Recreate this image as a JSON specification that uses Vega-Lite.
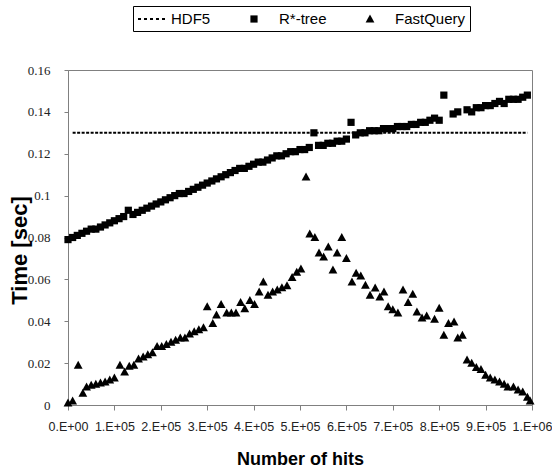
{
  "$schema": "https://vega.github.io/schema/vega-lite/v6.json",
  "width": 464,
  "height": 335,
  "autosize": {"type": "none"},
  "padding": {"left": 68, "top": 70, "right": 20, "bottom": 63},
  "background": "white",
  "config": {
    "view": {"stroke": "#808080", "strokeWidth": 1},
    "axis": {
      "grid": false,
      "domainColor": "#808080",
      "tickColor": "#808080",
      "labelFont": "Liberation Sans",
      "titleFont": "Liberation Sans",
      "labelColor": "#222222",
      "titleColor": "#000000",
      "titleFontWeight": "bold"
    }
  },
  "datasets": {
    "hdf5": [
      {"series": "HDF5", "x": 10000, "y": 0.13},
      {"series": "HDF5", "x": 990000, "y": 0.13}
    ],
    "pts": [
      {"series": "R*-tree", "x": 0, "y": 0.079},
      {"series": "R*-tree", "x": 10000, "y": 0.080},
      {"series": "R*-tree", "x": 20000, "y": 0.081},
      {"series": "R*-tree", "x": 30000, "y": 0.082},
      {"series": "R*-tree", "x": 40000, "y": 0.083},
      {"series": "R*-tree", "x": 50000, "y": 0.084},
      {"series": "R*-tree", "x": 60000, "y": 0.084},
      {"series": "R*-tree", "x": 70000, "y": 0.085},
      {"series": "R*-tree", "x": 80000, "y": 0.086},
      {"series": "R*-tree", "x": 90000, "y": 0.087},
      {"series": "R*-tree", "x": 100000, "y": 0.088},
      {"series": "R*-tree", "x": 110000, "y": 0.089},
      {"series": "R*-tree", "x": 120000, "y": 0.090},
      {"series": "R*-tree", "x": 130000, "y": 0.093},
      {"series": "R*-tree", "x": 140000, "y": 0.091},
      {"series": "R*-tree", "x": 150000, "y": 0.092},
      {"series": "R*-tree", "x": 160000, "y": 0.093},
      {"series": "R*-tree", "x": 170000, "y": 0.094},
      {"series": "R*-tree", "x": 180000, "y": 0.095},
      {"series": "R*-tree", "x": 190000, "y": 0.096},
      {"series": "R*-tree", "x": 200000, "y": 0.097},
      {"series": "R*-tree", "x": 210000, "y": 0.098},
      {"series": "R*-tree", "x": 220000, "y": 0.099},
      {"series": "R*-tree", "x": 230000, "y": 0.100},
      {"series": "R*-tree", "x": 240000, "y": 0.101},
      {"series": "R*-tree", "x": 250000, "y": 0.101},
      {"series": "R*-tree", "x": 260000, "y": 0.102},
      {"series": "R*-tree", "x": 270000, "y": 0.103},
      {"series": "R*-tree", "x": 280000, "y": 0.104},
      {"series": "R*-tree", "x": 290000, "y": 0.105},
      {"series": "R*-tree", "x": 300000, "y": 0.106},
      {"series": "R*-tree", "x": 310000, "y": 0.107},
      {"series": "R*-tree", "x": 320000, "y": 0.108},
      {"series": "R*-tree", "x": 330000, "y": 0.109},
      {"series": "R*-tree", "x": 340000, "y": 0.110},
      {"series": "R*-tree", "x": 350000, "y": 0.111},
      {"series": "R*-tree", "x": 360000, "y": 0.112},
      {"series": "R*-tree", "x": 370000, "y": 0.113},
      {"series": "R*-tree", "x": 380000, "y": 0.113},
      {"series": "R*-tree", "x": 390000, "y": 0.114},
      {"series": "R*-tree", "x": 400000, "y": 0.115},
      {"series": "R*-tree", "x": 410000, "y": 0.116},
      {"series": "R*-tree", "x": 420000, "y": 0.116},
      {"series": "R*-tree", "x": 430000, "y": 0.117},
      {"series": "R*-tree", "x": 440000, "y": 0.118},
      {"series": "R*-tree", "x": 450000, "y": 0.119},
      {"series": "R*-tree", "x": 460000, "y": 0.119},
      {"series": "R*-tree", "x": 470000, "y": 0.120},
      {"series": "R*-tree", "x": 480000, "y": 0.121},
      {"series": "R*-tree", "x": 490000, "y": 0.121},
      {"series": "R*-tree", "x": 500000, "y": 0.122},
      {"series": "R*-tree", "x": 510000, "y": 0.122},
      {"series": "R*-tree", "x": 520000, "y": 0.123},
      {"series": "R*-tree", "x": 530000, "y": 0.130},
      {"series": "R*-tree", "x": 540000, "y": 0.124},
      {"series": "R*-tree", "x": 550000, "y": 0.124},
      {"series": "R*-tree", "x": 560000, "y": 0.125},
      {"series": "R*-tree", "x": 570000, "y": 0.125},
      {"series": "R*-tree", "x": 580000, "y": 0.126},
      {"series": "R*-tree", "x": 590000, "y": 0.126},
      {"series": "R*-tree", "x": 600000, "y": 0.127},
      {"series": "R*-tree", "x": 610000, "y": 0.135},
      {"series": "R*-tree", "x": 620000, "y": 0.129},
      {"series": "R*-tree", "x": 630000, "y": 0.130},
      {"series": "R*-tree", "x": 640000, "y": 0.130},
      {"series": "R*-tree", "x": 650000, "y": 0.131},
      {"series": "R*-tree", "x": 660000, "y": 0.131},
      {"series": "R*-tree", "x": 670000, "y": 0.131},
      {"series": "R*-tree", "x": 680000, "y": 0.132},
      {"series": "R*-tree", "x": 690000, "y": 0.132},
      {"series": "R*-tree", "x": 700000, "y": 0.132},
      {"series": "R*-tree", "x": 710000, "y": 0.133},
      {"series": "R*-tree", "x": 720000, "y": 0.133},
      {"series": "R*-tree", "x": 730000, "y": 0.133},
      {"series": "R*-tree", "x": 740000, "y": 0.134},
      {"series": "R*-tree", "x": 750000, "y": 0.134},
      {"series": "R*-tree", "x": 760000, "y": 0.135},
      {"series": "R*-tree", "x": 770000, "y": 0.135},
      {"series": "R*-tree", "x": 780000, "y": 0.136},
      {"series": "R*-tree", "x": 790000, "y": 0.137},
      {"series": "R*-tree", "x": 800000, "y": 0.136},
      {"series": "R*-tree", "x": 810000, "y": 0.148},
      {"series": "R*-tree", "x": 830000, "y": 0.139},
      {"series": "R*-tree", "x": 840000, "y": 0.140},
      {"series": "R*-tree", "x": 860000, "y": 0.141},
      {"series": "R*-tree", "x": 870000, "y": 0.140},
      {"series": "R*-tree", "x": 880000, "y": 0.142},
      {"series": "R*-tree", "x": 890000, "y": 0.142},
      {"series": "R*-tree", "x": 900000, "y": 0.143},
      {"series": "R*-tree", "x": 910000, "y": 0.143},
      {"series": "R*-tree", "x": 920000, "y": 0.144},
      {"series": "R*-tree", "x": 930000, "y": 0.145},
      {"series": "R*-tree", "x": 940000, "y": 0.144},
      {"series": "R*-tree", "x": 950000, "y": 0.146},
      {"series": "R*-tree", "x": 960000, "y": 0.146},
      {"series": "R*-tree", "x": 970000, "y": 0.146},
      {"series": "R*-tree", "x": 980000, "y": 0.147},
      {"series": "R*-tree", "x": 990000, "y": 0.148},
      {"series": "FastQuery", "x": 0, "y": 0.001},
      {"series": "FastQuery", "x": 10000, "y": 0.002},
      {"series": "FastQuery", "x": 22000, "y": 0.019},
      {"series": "FastQuery", "x": 32000, "y": 0.0057},
      {"series": "FastQuery", "x": 40000, "y": 0.0086},
      {"series": "FastQuery", "x": 50000, "y": 0.0095},
      {"series": "FastQuery", "x": 60000, "y": 0.010},
      {"series": "FastQuery", "x": 70000, "y": 0.0105},
      {"series": "FastQuery", "x": 80000, "y": 0.011},
      {"series": "FastQuery", "x": 90000, "y": 0.012},
      {"series": "FastQuery", "x": 100000, "y": 0.013},
      {"series": "FastQuery", "x": 112000, "y": 0.019},
      {"series": "FastQuery", "x": 122000, "y": 0.0158},
      {"series": "FastQuery", "x": 132000, "y": 0.0185},
      {"series": "FastQuery", "x": 142000, "y": 0.019},
      {"series": "FastQuery", "x": 152000, "y": 0.022},
      {"series": "FastQuery", "x": 162000, "y": 0.023},
      {"series": "FastQuery", "x": 172000, "y": 0.024},
      {"series": "FastQuery", "x": 182000, "y": 0.025},
      {"series": "FastQuery", "x": 192000, "y": 0.028},
      {"series": "FastQuery", "x": 202000, "y": 0.028},
      {"series": "FastQuery", "x": 212000, "y": 0.029},
      {"series": "FastQuery", "x": 222000, "y": 0.030},
      {"series": "FastQuery", "x": 232000, "y": 0.031},
      {"series": "FastQuery", "x": 242000, "y": 0.032},
      {"series": "FastQuery", "x": 252000, "y": 0.032},
      {"series": "FastQuery", "x": 262000, "y": 0.034},
      {"series": "FastQuery", "x": 272000, "y": 0.035},
      {"series": "FastQuery", "x": 282000, "y": 0.036},
      {"series": "FastQuery", "x": 292000, "y": 0.037},
      {"series": "FastQuery", "x": 300000, "y": 0.047},
      {"series": "FastQuery", "x": 312000, "y": 0.039},
      {"series": "FastQuery", "x": 320000, "y": 0.043},
      {"series": "FastQuery", "x": 330000, "y": 0.048},
      {"series": "FastQuery", "x": 342000, "y": 0.044},
      {"series": "FastQuery", "x": 352000, "y": 0.044},
      {"series": "FastQuery", "x": 362000, "y": 0.044},
      {"series": "FastQuery", "x": 372000, "y": 0.049},
      {"series": "FastQuery", "x": 381000, "y": 0.046},
      {"series": "FastQuery", "x": 392000, "y": 0.050},
      {"series": "FastQuery", "x": 402000, "y": 0.048},
      {"series": "FastQuery", "x": 412000, "y": 0.054},
      {"series": "FastQuery", "x": 421000, "y": 0.0588},
      {"series": "FastQuery", "x": 431000, "y": 0.0525},
      {"series": "FastQuery", "x": 441000, "y": 0.054},
      {"series": "FastQuery", "x": 451000, "y": 0.055},
      {"series": "FastQuery", "x": 461000, "y": 0.056},
      {"series": "FastQuery", "x": 472000, "y": 0.057},
      {"series": "FastQuery", "x": 483000, "y": 0.061},
      {"series": "FastQuery", "x": 493000, "y": 0.0635},
      {"series": "FastQuery", "x": 502000, "y": 0.065},
      {"series": "FastQuery", "x": 513000, "y": 0.109},
      {"series": "FastQuery", "x": 521000, "y": 0.0817},
      {"series": "FastQuery", "x": 532000, "y": 0.080},
      {"series": "FastQuery", "x": 541000, "y": 0.0726},
      {"series": "FastQuery", "x": 551000, "y": 0.0707},
      {"series": "FastQuery", "x": 561000, "y": 0.0755},
      {"series": "FastQuery", "x": 571000, "y": 0.0645},
      {"series": "FastQuery", "x": 580000, "y": 0.0726},
      {"series": "FastQuery", "x": 590000, "y": 0.080},
      {"series": "FastQuery", "x": 600000, "y": 0.070},
      {"series": "FastQuery", "x": 612000, "y": 0.0588},
      {"series": "FastQuery", "x": 621000, "y": 0.063},
      {"series": "FastQuery", "x": 631000, "y": 0.0616},
      {"series": "FastQuery", "x": 641000, "y": 0.0573},
      {"series": "FastQuery", "x": 651000, "y": 0.0525},
      {"series": "FastQuery", "x": 662000, "y": 0.0559},
      {"series": "FastQuery", "x": 672000, "y": 0.0516},
      {"series": "FastQuery", "x": 681000, "y": 0.054},
      {"series": "FastQuery", "x": 690000, "y": 0.047},
      {"series": "FastQuery", "x": 700000, "y": 0.0455},
      {"series": "FastQuery", "x": 711000, "y": 0.044},
      {"series": "FastQuery", "x": 722000, "y": 0.055},
      {"series": "FastQuery", "x": 733000, "y": 0.049},
      {"series": "FastQuery", "x": 743000, "y": 0.053},
      {"series": "FastQuery", "x": 752000, "y": 0.0445},
      {"series": "FastQuery", "x": 763000, "y": 0.0416},
      {"series": "FastQuery", "x": 773000, "y": 0.0425},
      {"series": "FastQuery", "x": 790000, "y": 0.041},
      {"series": "FastQuery", "x": 800000, "y": 0.0463},
      {"series": "FastQuery", "x": 810000, "y": 0.0334},
      {"series": "FastQuery", "x": 820000, "y": 0.039},
      {"series": "FastQuery", "x": 832000, "y": 0.0397},
      {"series": "FastQuery", "x": 840000, "y": 0.032},
      {"series": "FastQuery", "x": 850000, "y": 0.0334},
      {"series": "FastQuery", "x": 860000, "y": 0.0215},
      {"series": "FastQuery", "x": 870000, "y": 0.020},
      {"series": "FastQuery", "x": 880000, "y": 0.018},
      {"series": "FastQuery", "x": 890000, "y": 0.017},
      {"series": "FastQuery", "x": 900000, "y": 0.0143},
      {"series": "FastQuery", "x": 910000, "y": 0.0129},
      {"series": "FastQuery", "x": 920000, "y": 0.012},
      {"series": "FastQuery", "x": 930000, "y": 0.011},
      {"series": "FastQuery", "x": 940000, "y": 0.010},
      {"series": "FastQuery", "x": 948000, "y": 0.0086},
      {"series": "FastQuery", "x": 960000, "y": 0.0086},
      {"series": "FastQuery", "x": 970000, "y": 0.0072},
      {"series": "FastQuery", "x": 980000, "y": 0.0062},
      {"series": "FastQuery", "x": 990000, "y": 0.0038},
      {"series": "FastQuery", "x": 996000, "y": 0.0019}
    ]
  },
  "layer": [
    {
      "data": {"name": "hdf5"},
      "mark": {"type": "line", "color": "#000000", "strokeWidth": 2, "strokeDash": [3, 1.5]},
      "encoding": {
        "x": {"field": "x", "type": "quantitative"},
        "y": {"field": "y", "type": "quantitative"}
      }
    },
    {
      "data": {"name": "pts"},
      "mark": {"type": "point", "filled": true, "color": "#000000", "opacity": 1, "size": 256},
      "encoding": {
        "x": {
          "field": "x", "type": "quantitative",
          "scale": {"domain": [0, 1000000], "nice": false, "zero": true},
          "axis": {
            "title": "Number of hits",
            "values": [0, 100000, 200000, 300000, 400000, 500000, 600000, 700000, 800000, 900000, 1000000],
            "labelExpr": "replace(format(datum.value, '.0e'), 'e+', '.E+0')",
            "labelOverlap": false,
            "labelBound": false,
            "labelFlush": false,
            "labelDx": -5,
            "labelFontSize": 12.5,
            "labelPadding": 10,
            "tickSize": 5,
            "titleFontSize": 18,
            "titlePadding": 18
          }
        },
        "y": {
          "field": "y", "type": "quantitative",
          "scale": {"domain": [0, 0.16], "nice": false},
          "axis": {
            "title": "Time [sec]",
            "values": [0, 0.02, 0.04, 0.06, 0.08, 0.1, 0.12, 0.14, 0.16],
            "format": "~g",
            "labelFont": "Liberation Sans Narrow",
            "labelFontSize": 13,
            "labelPadding": 14,
            "tickSize": 4,
            "titleFontSize": 22,
            "titleX": -37,
            "titleY": 180
          }
        },
        "shape": {
          "field": "series", "type": "nominal",
          "scale": {
            "domain": ["HDF5", "R*-tree", "FastQuery"],
            "range": [
              "M-1,-0.125H-0.625V0.125H-1ZM-0.25,-0.125H0.125V0.125H-0.25ZM0.5,-0.125H0.875V0.125H0.5ZM1.25,-0.125H1.625V0.125H1.25ZM2,-0.125H2.375V0.125H2Z",
              "M-0.45,-0.45H0.45V0.45H-0.45Z",
              "M0,-0.55L0.55,0.45H-0.55Z"
            ]
          },
          "legend": {
            "title": null,
            "orient": "none",
            "direction": "horizontal",
            "legendX": 65,
            "legendY": -64,
            "padding": 4,
            "strokeColor": "#000000",
            "fillColor": "#ffffff",
            "symbolSize": 256,
            "symbolFillColor": "#000000",
            "symbolOpacity": 1,
            "labelOffset": 16,
            "columnPadding": 34,
            "labelFont": "Liberation Sans",
            "labelFontSize": 15,
            "labelColor": "#000000"
          }
        }
      }
    }
  ]
}
